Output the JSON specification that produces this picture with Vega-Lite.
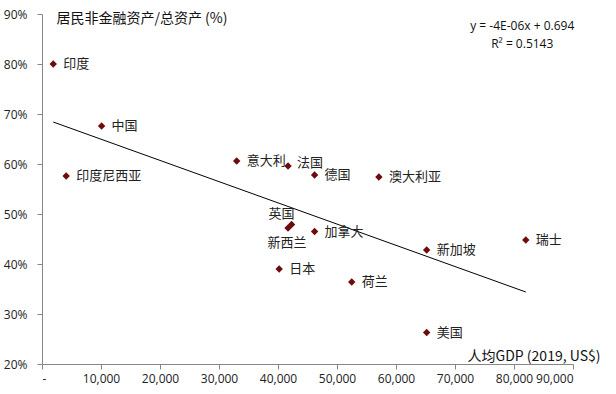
{
  "$schema": "https://vega.github.io/schema/vega-lite/v6.json",
  "width": 531,
  "height": 350,
  "autosize": {"type": "none"},
  "padding": {"left": 42, "top": 14, "right": 43, "bottom": 30},
  "background": "white",
  "config": {"view": {"stroke": null}},
  "datasets": {
    "pts": [
      {"country": "印度", "gdp": 1900, "share": 0.800},
      {"country": "中国", "gdp": 10100, "share": 0.676},
      {"country": "印度尼西亚", "gdp": 4100, "share": 0.576},
      {"country": "意大利", "gdp": 33000, "share": 0.606},
      {"country": "法国", "gdp": 41700, "share": 0.596},
      {"country": "德国", "gdp": 46200, "share": 0.578},
      {"country": "澳大利亚", "gdp": 57100, "share": 0.574},
      {"country": "英国", "gdp": 42300, "share": 0.479},
      {"country": "新西兰", "gdp": 41700, "share": 0.472},
      {"country": "加拿大", "gdp": 46200, "share": 0.465},
      {"country": "新加坡", "gdp": 65200, "share": 0.428},
      {"country": "日本", "gdp": 40200, "share": 0.390},
      {"country": "荷兰", "gdp": 52500, "share": 0.364},
      {"country": "美国", "gdp": 65200, "share": 0.263},
      {"country": "瑞士", "gdp": 82000, "share": 0.448}
    ],
    "trend": [
      {"gdp": 1900, "share": 0.684},
      {"gdp": 82000, "share": 0.344}
    ],
    "eq": [
      {"gdp": 81400, "share": 0.876, "txt": "y = -4E-06x + 0.694"},
      {"gdp": 81400, "share": 0.840, "txt": "R² = 0.5143"}
    ]
  },
  "layer": [
    {
      "data": {"name": "trend"},
      "mark": {"type": "line", "color": "black", "strokeWidth": 1},
      "encoding": {
        "x": {
          "field": "gdp", "type": "quantitative",
          "scale": {"domain": [0, 90000], "nice": false},
          "axis": {
            "values": [0, 10000, 20000, 30000, 40000, 50000, 60000, 70000, 80000, 90000],
            "labelExpr": "datum.value == 0 ? '-' : format(datum.value, ',')",
            "grid": false,
            "domainColor": "#868686",
            "tickColor": "#868686",
            "tickSize": 5,
            "labelFont": "Open Sans",
            "labelFontSize": 12,
            "labelColor": "#222",
            "labelPadding": 4,
            "title": "人均GDP (2019, US$)",
            "titleFont": "Noto Sans CJK SC",
            "titleFontSize": 14,
            "titleFontWeight": "normal",
            "titleColor": "#111",
            "titleAnchor": "end",
            "titleAlign": "right",
            "titleBaseline": "alphabetic",
            "titleX": 558,
            "titleY": -4
          }
        },
        "y": {
          "field": "share", "type": "quantitative",
          "scale": {"domain": [0.2, 0.9], "nice": false},
          "axis": {
            "values": [0.2, 0.3, 0.4, 0.5, 0.6, 0.7, 0.8, 0.9],
            "format": ".0%",
            "grid": false,
            "domainColor": "#868686",
            "tickColor": "#868686",
            "tickSize": 5,
            "labelFont": "Open Sans",
            "labelFontSize": 12,
            "labelColor": "#222",
            "labelPadding": 10,
            "title": "居民非金融资产/总资产 (%)",
            "titleFont": "Noto Sans CJK SC",
            "titleFontSize": 14,
            "titleFontWeight": "normal",
            "titleColor": "#111",
            "titleAngle": 0,
            "titleAlign": "left",
            "titleBaseline": "middle",
            "titleX": 14,
            "titleY": 4
          }
        }
      }
    },
    {
      "data": {"name": "pts"},
      "mark": {"type": "point", "shape": "diamond", "filled": true, "color": "#6e0b0b", "size": 55, "opacity": 1},
      "encoding": {
        "x": {"field": "gdp", "type": "quantitative"},
        "y": {"field": "share", "type": "quantitative"}
      }
    },
    {
      "data": {"name": "pts"},
      "transform": [{"filter": "datum.country != '英国' && datum.country != '新西兰' && datum.country != '法国'"}],
      "mark": {"type": "text", "align": "left", "baseline": "middle", "dx": 10, "font": "Noto Sans CJK SC", "fontSize": 13, "color": "#222"},
      "encoding": {
        "x": {"field": "gdp", "type": "quantitative"},
        "y": {"field": "share", "type": "quantitative"},
        "text": {"field": "country"}
      }
    },
    {
      "data": {"name": "pts"},
      "transform": [{"filter": "datum.country == '法国'"}],
      "mark": {"type": "text", "align": "left", "baseline": "middle", "dx": 9, "dy": -3, "font": "Noto Sans CJK SC", "fontSize": 13, "color": "#222"},
      "encoding": {
        "x": {"field": "gdp", "type": "quantitative"},
        "y": {"field": "share", "type": "quantitative"},
        "text": {"field": "country"}
      }
    },
    {
      "data": {"name": "pts"},
      "transform": [{"filter": "datum.country == '英国'"}],
      "mark": {"type": "text", "align": "center", "baseline": "middle", "dx": -10, "dy": -11, "font": "Noto Sans CJK SC", "fontSize": 13, "color": "#222"},
      "encoding": {
        "x": {"field": "gdp", "type": "quantitative"},
        "y": {"field": "share", "type": "quantitative"},
        "text": {"field": "country"}
      }
    },
    {
      "data": {"name": "pts"},
      "transform": [{"filter": "datum.country == '新西兰'"}],
      "mark": {"type": "text", "align": "center", "baseline": "middle", "dx": -1, "dy": 15, "font": "Noto Sans CJK SC", "fontSize": 13, "color": "#222"},
      "encoding": {
        "x": {"field": "gdp", "type": "quantitative"},
        "y": {"field": "share", "type": "quantitative"},
        "text": {"field": "country"}
      }
    },
    {
      "data": {"name": "eq"},
      "mark": {"type": "text", "align": "center", "baseline": "middle", "font": "Open Sans", "fontSize": 12, "color": "#111"},
      "encoding": {
        "x": {"field": "gdp", "type": "quantitative"},
        "y": {"field": "share", "type": "quantitative"},
        "text": {"field": "txt"}
      }
    }
  ]
}
